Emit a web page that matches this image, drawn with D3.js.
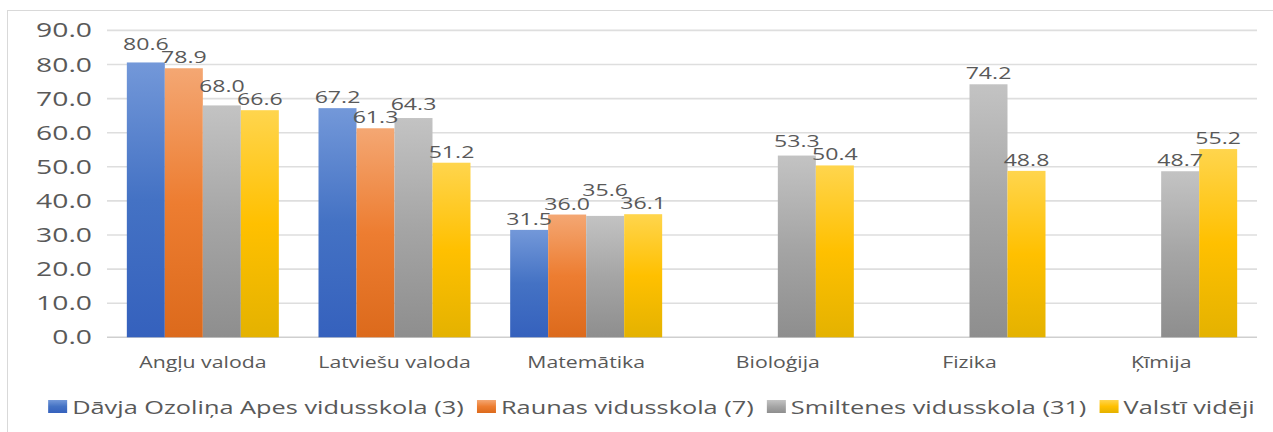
<!DOCTYPE html>
<html>
<head>
<meta charset="utf-8">
<script src="https://cdn.jsdelivr.net/npm/d3@7"></script>
<style>
  body { margin: 0; background: #fff; }
  text { font-family: "Open Sans", sans-serif; fill: #595959; }
</style>
</head>
<body>
<div id="chart"></div>
<script>
"use strict";
const categories = ["Angļu valoda", "Latviešu valoda", "Matemātika", "Bioloģija", "Fizika", "Ķīmija"];
const seriesNames = ["Dāvja Ozoliņa Apes vidusskola (3)", "Raunas vidusskola (7)", "Smiltenes vidusskola (31)", "Valstī vidēji"];
const davjaOzolina = [80.6, 67.2, 31.5, null, null, null];
const raunas = [78.9, 61.3, 36.0, null, null, null];
const smiltenes = [68.0, 64.3, 35.6, 53.3, 74.2, 48.7];
const valsti = [66.6, 51.2, 36.1, 50.4, 48.8, 55.2];
const yTicks = [0, 10, 20, 30, 40, 50, 60, 70, 80, 90];

const seriesValues = [davjaOzolina, raunas, smiltenes, valsti];
// top / middle / bottom of the gradient
const palette = [
    ["#7398d9", "#4472c4", "#3561bd"],
    ["#f4a773", "#ed7d31", "#dc6a1c"],
    ["#c3c3c3", "#a5a5a5", "#8e8e8e"],
    ["#ffd54d", "#ffc000", "#e4b200"]
];

const W = 1273, H = 432;
const sx = 1.4; // the picture is stretched sideways
const margin = { top: 30.4, left: 107, right: 16, bottom: 95 };

const svg = d3.select("#chart").append("svg")
    .attr("width", W)
    .attr("height", H);

// chart frame
svg.append("rect")
    .attr("x", 7.5).attr("y", 10.5)
    .attr("width", W + 10).attr("height", H + 10)
    .attr("fill", "none").attr("stroke", "#d9d9d9");

const defs = svg.append("defs");
palette.forEach((c, i) => {
    const g = defs.append("linearGradient")
        .attr("id", "grad" + i)
        .attr("x1", 0).attr("y1", 0).attr("x2", 0).attr("y2", 1);
    g.append("stop").attr("offset", "0%").attr("stop-color", c[0]);
    g.append("stop").attr("offset", "50%").attr("stop-color", c[1]);
    g.append("stop").attr("offset", "100%").attr("stop-color", c[2]);
});

const y = d3.scaleLinear().domain([0, 90]).range([H - margin.bottom + 0.3, margin.top]);
const x0 = d3.scaleBand().domain(categories)
    .range([margin.left, W - margin.right])
    .paddingInner(0.207).paddingOuter(0.1035);
const x1 = d3.scaleBand().domain(d3.range(seriesNames.length))
    .range([0, x0.bandwidth()]);

function sText(sel, fontSize) {
    return sel.style("font-size", fontSize + "px");
}

// gridlines
svg.append("g").selectAll("line")
    .data(yTicks)
    .join("line")
    .attr("x1", margin.left).attr("x2", W - margin.right)
    .attr("y1", d => y(d)).attr("y2", d => y(d))
    .attr("stroke", d => d === 0 ? "#cfcfcf" : "#dedede")
    .attr("stroke-width", 1.6);

// y tick labels
sText(svg.append("g").selectAll("text")
    .data(yTicks)
    .join("text")
    .attr("text-anchor", "end")
    .attr("dy", "0.36em")
    .attr("transform", d => `translate(92,${y(d)}) scale(1.45,1)`)
    .text(d => d.toFixed(1)), 19.5);

// bars
const groups = svg.append("g").selectAll("g")
    .data(categories)
    .join("g")
    .attr("transform", d => `translate(${x0(d)},0)`);

const barData = (c, ci) => seriesValues.map((vals, si) => ({ si, ci, v: vals[ci] }))
    .filter(d => d.v !== null);

groups.selectAll("rect")
    .data(barData)
    .join("rect")
    .attr("x", d => x1(d.si))
    .attr("width", x1.bandwidth())
    .attr("y", d => y(d.v))
    .attr("height", d => y(0) - y(d.v))
    .attr("fill", d => `url(#grad${d.si})`);

// value labels
const labelH = 13;
groups.each(function (c, ci) {
    const g = d3.select(this);
    const labels = barData(c, ci).map(d => ({ ...d, base: y(d.v) - 5 }));
    const txt = sText(g.selectAll("text.val")
        .data(labels)
        .join("text")
        .attr("class", "val")
        .attr("text-anchor", "middle")
        .text(d => d.v.toFixed(1)), 16.5);
    txt.each(function (d) {
        d.w = this.getComputedTextLength() * sx;
        d.cx = x1(d.si) + x1.bandwidth() / 2;
    });
    const hit = (a, b) => Math.abs(a.cx - b.cx) < (a.w + b.w) / 2 &&
        Math.abs(a.base - b.base) < labelH;
    // nudge overlapping labels upward, busiest first, then the larger value
    for (let iter = 0; iter < 10; iter++) {
        const counts = labels.map(a => labels.filter(b => b !== a && hit(a, b)));
        let best = -1;
        counts.forEach((n, i) => {
            if (!n.length) return;
            if (best < 0 || n.length > counts[best].length ||
                (n.length === counts[best].length && labels[i].v > labels[best].v)) best = i;
        });
        if (best < 0) break;
        labels[best].base = d3.min(counts[best], b => b.base) - labelH;
    }
    txt.attr("transform", d => `translate(${d.cx},${d.base}) scale(${sx},1)`);
});

// category labels
sText(svg.append("g").selectAll("text")
    .data(categories)
    .join("text")
    .attr("text-anchor", "middle")
    .attr("transform", d => `translate(${x0(d) + x0.bandwidth() / 2},368) scale(1.25,1)`)
    .text(d => d), 17);

// legend
const legend = svg.append("g");
const items = legend.selectAll("g")
    .data(seriesNames)
    .join("g");
items.append("rect")
    .attr("y", 400).attr("width", 19).attr("height", 13)
    .attr("fill", (d, i) => `url(#grad${i})`);
const lsx = 1.37;
const ltxt = sText(items.append("text")
    .attr("dy", "0.36em")
    .text(d => d), 18.5);
let cur = 0;
const offs = [];
ltxt.each(function () {
    offs.push(cur);
    cur += 19 + 5 + this.getComputedTextLength() * lsx + 13;
});
const total = cur - 13;
const start = 651.5 - total / 2;
items.attr("transform", (d, i) => `translate(${start + offs[i]},0)`);
ltxt.attr("transform", `translate(24,407) scale(${lsx},1)`);
</script>
</body>
</html>
